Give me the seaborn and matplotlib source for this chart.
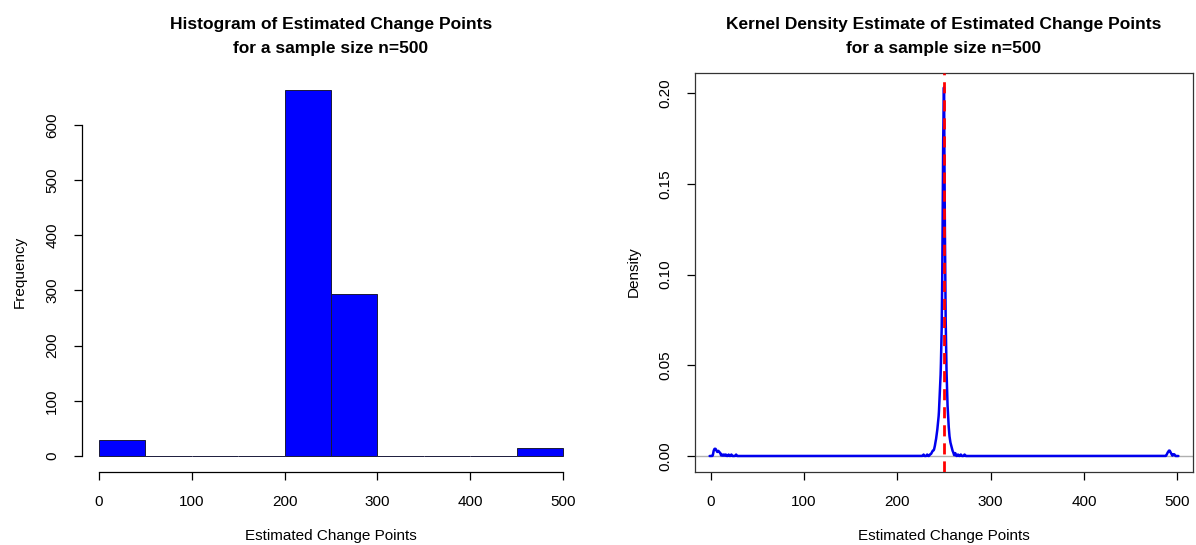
import numpy as np
import pandas as pd
import matplotlib
matplotlib.use("Agg")
import matplotlib.pyplot as plt
import seaborn as sns

# ---------------- data ----------------
# Histogram (bins of width 50, counts per bin)
hist_edges = [0, 50, 100, 150, 200, 250, 300, 350, 400, 450, 500]
hist_counts = [29, 0, 0, 0, 664, 293, 0, 0, 0, 14]

# Estimated change points (value -> number of occurrences), used for the KDE
cp_values_low = [3, 4, 5, 6, 7, 8, 9, 10, 12, 14, 16, 19, 22, 27]
cp_counts_low = [3, 4, 4, 3, 2, 3, 2, 2, 1, 1, 1, 1, 1, 1]

cp_values_mid = [228, 232, 235, 236, 237, 238, 239, 240, 241, 242, 243, 244, 245,
                 246, 247, 248, 249, 250,
                 251, 252, 253, 254, 255, 256, 257, 258, 259, 260, 262, 265, 268, 272]
cp_counts_mid = [1, 1, 1, 1, 2, 3, 3, 5, 8, 11, 15, 20, 28,
                 40, 55, 85, 170, 215,
                 115, 65, 40, 25, 16, 10, 7, 5, 3, 2, 2, 1, 1, 1]

cp_values_high = [489, 490, 491, 492, 493, 494, 496, 497]
cp_counts_high = [1, 2, 3, 3, 2, 1, 1, 1]

true_change_point = 250
kde_bandwidth = 0.5

hist_xticks = [0, 100, 200, 300, 400, 500]
hist_yticks = [0, 100, 200, 300, 400, 500, 600]
kde_xticks = [0, 100, 200, 300, 400, 500]
kde_yticks = [0.00, 0.05, 0.10, 0.15, 0.20]

# ---------------- style ----------------
sns.set_theme(style="white")
plt.rcParams["font.family"] = ["Liberation Sans", "DejaVu Sans"]
plt.rcParams["axes.edgecolor"] = "black"
plt.rcParams["axes.linewidth"] = 0.9
plt.rcParams["text.color"] = "black"
plt.rcParams["axes.labelcolor"] = "black"
plt.rcParams["xtick.color"] = "black"
plt.rcParams["ytick.color"] = "black"

W, H = 1196, 545
fig = plt.figure(figsize=(W / 100, H / 100), dpi=100)

def fig_rect(x0, x1, ytop, ybot):
    return [x0 / W, 1 - ybot / H, (x1 - x0) / W, (ybot - ytop) / H]

ax1 = fig.add_axes(fig_rect(81.5, 580.5, 72.5, 471.5))
ax2 = fig.add_axes(fig_rect(695, 1193, 72.5, 471.5))

tick_fs = 11
label_fs = 11
title_fs = 12.5

# ---------------- histogram ----------------
centers = [(a + b) / 2 for a, b in zip(hist_edges[:-1], hist_edges[1:])]
hist_df = pd.DataFrame({"cp": centers, "n": hist_counts})
sns.histplot(data=hist_df, x="cp", weights="n", bins=list(hist_edges), ax=ax1,
             color="#0000FF", alpha=1, edgecolor="#1a1a3a", linewidth=0.7)
ax1.set_xlim(-18.5, 518.5)
ax1.set_ylim(-28, 695)
ax1.spines["top"].set_visible(False)
ax1.spines["right"].set_visible(False)
ax1.spines["left"].set_bounds(0, 600)
ax1.spines["bottom"].set_bounds(0, 500)
ax1.set_xticks(hist_xticks)
ax1.set_yticks(hist_yticks)
ax1.set_xticklabels([str(v) for v in hist_xticks])
ax1.set_yticklabels([str(v) for v in hist_yticks], rotation=90, va="center")
ax1.set_xlabel("Estimated Change Points", fontsize=label_fs, labelpad=14)
ax1.set_ylabel("Frequency", fontsize=label_fs, labelpad=13)
ax1.set_title("Histogram of Estimated Change Points\nfor a sample size n=500",
              fontsize=title_fs, fontweight="bold", pad=14, linespacing=1.75,
              color="black")

# ---------------- KDE ----------------
vals = np.array(cp_values_low + cp_values_mid + cp_values_high, dtype=float)
wts = np.array(cp_counts_low + cp_counts_mid + cp_counts_high, dtype=float)
kde_df = pd.DataFrame({"cp": vals, "n": wts})
wstd = float(np.sqrt(np.cov(vals, aweights=wts)))
ax2.axhline(0, color="#b0b0b0", lw=1.0, zorder=1)
sns.kdeplot(data=kde_df, x="cp", weights="n", bw_method=kde_bandwidth / wstd,
            gridsize=6000, cut=3, color="#0000EE", lw=1.8, ax=ax2, zorder=2)
ax2.axvline(true_change_point, color="red", lw=2.0, dashes=(4, 2.5), zorder=3)
ax2.set_xlim(-17, 517)
ax2.set_ylim(-0.00854, 0.2113)
ax2.set_xticks(kde_xticks)
ax2.set_yticks(kde_yticks)
ax2.set_xticklabels([str(v) for v in kde_xticks])
ax2.set_yticklabels([f"{v:.2f}" for v in kde_yticks], rotation=90, va="center")
ax2.set_xlabel("Estimated Change Points", fontsize=label_fs, labelpad=14)
ax2.set_ylabel("Density", fontsize=label_fs, labelpad=13)
ax2.set_title("Kernel Density Estimate of Estimated Change Points\nfor a sample size n=500",
              fontsize=title_fs, fontweight="bold", pad=14, linespacing=1.75,
              color="black")
for sp in ax2.spines.values():
    sp.set_color("#333333")

for ax in (ax1, ax2):
    ax.tick_params(axis="both", which="both", direction="out", length=6, width=0.9,
                   labelsize=tick_fs, colors="black", bottom=True, left=True)
    ax.tick_params(axis="x", pad=11)
    ax.tick_params(axis="y", pad=10)
    ax.grid(False)

fig.savefig("out.png", dpi=100, facecolor="white")
